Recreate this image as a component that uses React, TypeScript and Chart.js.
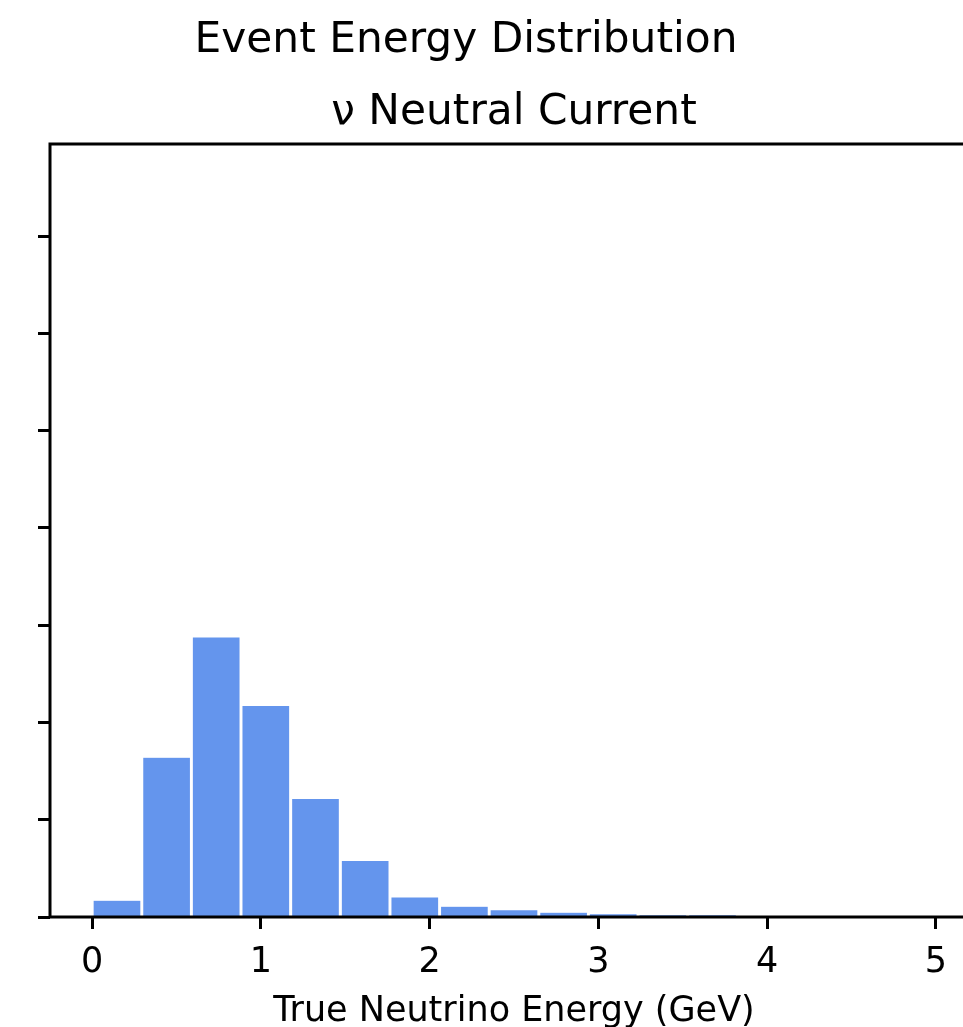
import React, { useEffect, useRef } from "react";
import { Chart, registerables } from "chart.js";

Chart.register(...registerables);

// Histogram bin edges (GeV), 17 bins between 0 and 5
const binEdges = [
  0, 0.294, 0.588, 0.882, 1.176, 1.471, 1.765, 2.059, 2.353, 2.647, 2.941,
  3.235, 3.529, 3.824, 4.118, 4.412, 4.706, 5.0,
];
// Event counts per bin
const counts = [169, 1640, 2876, 2170, 1216, 577, 203, 107, 72, 45, 31, 21, 20, 0, 0, 0, 0];

const xTickValues = [0, 1, 2, 3, 4, 5];
const xTickLabels = ["0", "1", "2", "3", "4", "5"];
const yTickValues = [0, 1000, 2000, 3000, 4000, 5000, 6000, 7000];

const suptitle = "Event Energy Distribution";
const axTitle = "\u03BD Neutral Current";
const xLabel = "True Neutrino Energy (GeV)";

const FONT = "'DejaVu Sans', sans-serif";

export default function App() {
  const ref = useRef<HTMLCanvasElement | null>(null);

  useEffect(() => {
    if (!ref.current) return;
    const centers = counts.map((_, i) => (binEdges[i] + binEdges[i + 1]) / 2);
    const data = counts.map((c, i) => ({ x: centers[i], y: c }));

    const framePlugin = {
      id: "frameAndTitles",
      afterDraw(chart: any) {
        const { ctx, chartArea } = chart;
        const cx = (chartArea.left + chartArea.right) / 2;
        ctx.save();
        ctx.strokeStyle = "#000";
        ctx.lineWidth = 3;
        ctx.strokeRect(
          chartArea.left,
          chartArea.top,
          chartArea.right - chartArea.left,
          chartArea.bottom - chartArea.top
        );
        ctx.fillStyle = "#000";
        ctx.textAlign = "center";
        ctx.textBaseline = "alphabetic";
        ctx.font = `42.3px ${FONT}`;
        ctx.fillText(suptitle, 466, 52);
        ctx.fillText(axTitle, cx, 124);
        ctx.font = `35px ${FONT}`;
        ctx.fillText(xLabel, cx, 1021);
        ctx.restore();
      },
    };

    const chart = new Chart(ref.current, {
      type: "bar",
      data: {
        datasets: [
          {
            data,
            backgroundColor: "#6495ED",
            borderColor: "#ffffff",
            borderWidth: { left: 1.8, right: 1.8, top: 0.5, bottom: 0 },
            borderSkipped: false,
            barPercentage: 1,
            categoryPercentage: 1,
          } as any,
        ],
      },
      plugins: [framePlugin],
      options: {
        animation: false,
        responsive: false,
        events: [],
        layout: { padding: { left: 38, right: 22, top: 144, bottom: 30 } },
        plugins: {
          legend: { display: false },
          tooltip: { enabled: false },
          title: { display: false },
        },
        scales: {
          x: {
            type: "linear",
            min: -0.25,
            max: 5.25,
            offset: false,
            border: { display: false },
            grid: {
              display: true,
              offset: false,
              drawOnChartArea: false,
              drawTicks: true,
              tickLength: 12,
              tickColor: "#000",
              tickWidth: 3,
            },
            afterBuildTicks: (scale: any) => {
              scale.ticks = xTickValues.map((v) => ({ value: v }));
            },
            ticks: {
              color: "#000",
              padding: 13,
              maxRotation: 0,
              autoSkip: false,
              font: { family: FONT, size: 35, lineHeight: 1.2 },
              callback: (_v: any, i: number) => xTickLabels[i],
            },
            title: { display: false },
          },
          y: {
            type: "linear",
            min: 0,
            max: 7946,
            border: { display: false },
            grid: {
              display: true,
              drawOnChartArea: false,
              drawTicks: true,
              tickLength: 12,
              tickColor: "#000",
              tickWidth: 3,
            },
            afterBuildTicks: (scale: any) => {
              scale.ticks = yTickValues.map((v) => ({ value: v }));
            },
            ticks: { display: false },
          },
        },
      } as any,
    });
    return () => chart.destroy();
  }, []);

  return (
    <div
      style={{
        position: "absolute",
        left: 0,
        top: 0,
        width: 963,
        height: 1027,
        overflow: "hidden",
        background: "#fff",
      }}
    >
      <canvas ref={ref} width={1000} height={1027} style={{ display: "block" }} />
    </div>
  );
}
